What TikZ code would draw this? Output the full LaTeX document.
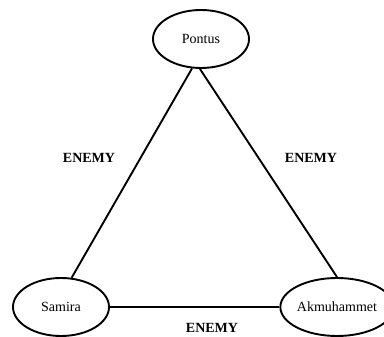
\documentclass[tikz,border=0pt]{standalone}
\usepackage{fontspec}
\setmainfont{Liberation Serif}
\usetikzlibrary{shapes.geometric}
\begin{document}
\begin{tikzpicture}[x=1pt,y=-1pt,
  person/.style={draw,line width=1.9pt,ellipse,minimum width=96pt,minimum height=58pt,inner sep=0pt,font=\fontsize{14}{16}\selectfont},
  tie/.style={line width=1.9pt},
  rel/.style={font=\fontsize{14}{16}\selectfont\bfseries}]
\useasboundingbox (0,0) rectangle (384,337);
\node[person] (p) at (201,39) {Pontus};
\node[person] (s) at (61,307) {Samira};
\node[person,minimum width=90pt] (a) at (337,307) {Akmuhammet};
\draw[tie] (p.-107) -- (s.70);
\draw[tie] (p.-92) -- (a.north);
\draw[tie] (s.east) -- (a.west);
\node[rel] (l1) at (89,158) {ENEMY};
\node[rel] (l2) at (311,158) {ENEMY};
\node[rel] (l3) at (212,328) {ENEMY};
\end{tikzpicture}
\end{document}
